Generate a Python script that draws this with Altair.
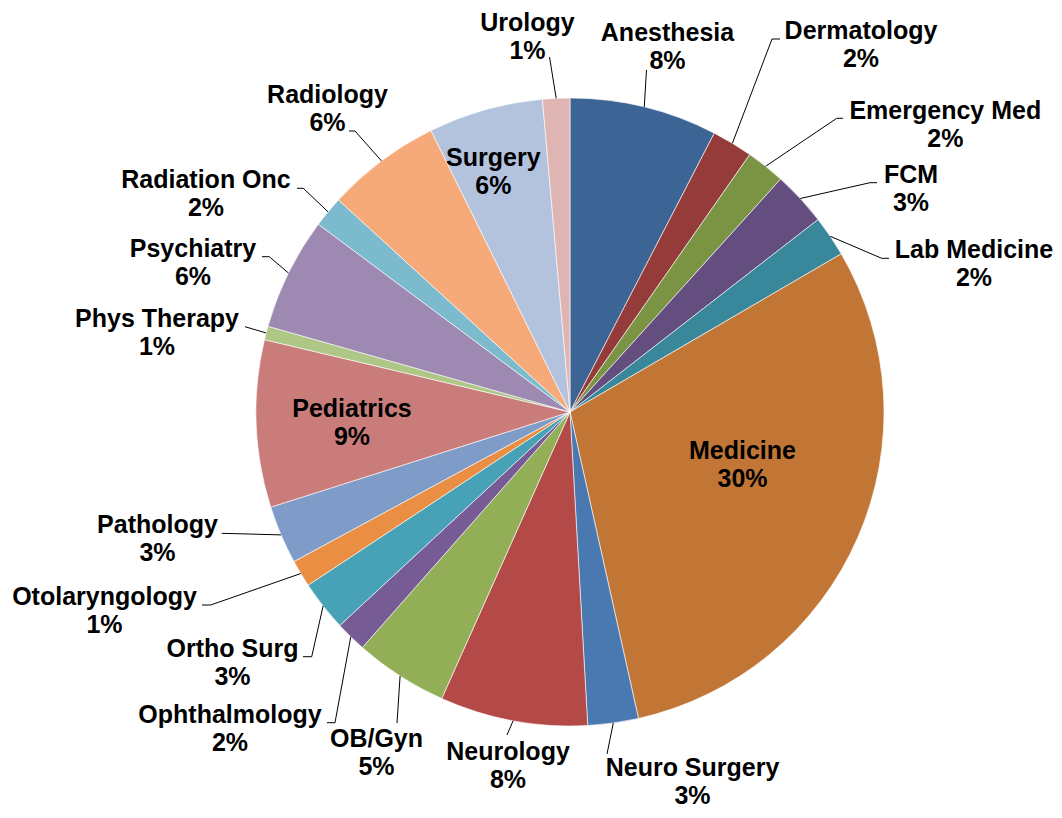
import altair as alt
import pandas as pd

# ---------------- data ----------------
names = ["Anesthesia", "Dermatology", "Emergency Med", "FCM", "Lab Medicine",
         "Medicine", "Neuro Surgery", "Neurology", "OB/Gyn", "Ophthalmology",
         "Ortho Surg", "Otolaryngology", "Pathology", "Pediatrics", "Phys Therapy",
         "Psychiatry", "Radiation Onc", "Radiology", "Surgery", "Urology"]
values = [7.6, 2.1, 2.0, 2.8, 2.1,
          29.9, 2.6, 7.6, 4.8, 1.6,
          2.6, 1.4, 3.0, 8.6, 0.7,
          5.8, 1.6, 5.9, 5.9, 1.4]

# ---------------- styles ----------------
colors = ["#3C6595", "#953B39", "#7A9444", "#644E80", "#38879A",
          "#C27636", "#4A78B0", "#B34A48", "#92AF57", "#775B94",
          "#47A2B8", "#E98E43", "#7F9CC8", "#C97C79", "#AEC686",
          "#9D89B2", "#7CBACD", "#F6AA79", "#B4C3DD", "#DFB5B4"]

# ---------------- layout (pixel offsets from the pie centre) ----------------
label_dx = [97.5, 291, 375.3, 341, 404,
            172.5, 122.5, -62, -193.5, -340,
            -337.5, -465.5, -412.5, -218, -413,
            -377, -364, -242.5, -76.7, -42.5]
label_dy = [-371.3, -372.7, -293, -228.7, -153.7,
            47.3, 364, 348, 334.7, 310.7,
            244.7, 193, 121.3, 5, -85.3,
            -155.3, -223.7, -308.7, -246, -381.3]
elbow_dx = [76.5, 202, 266.7, 300, 311.7,
            None, 37, -63, -173, -235,
            -258.3, -359.3, -348.3, None, -325,
            -300.7, -266.7, -215, None, -20.5]
elbow_dy = [-342, -373, -293.7, -229.3, -153.7,
            None, 342, 323, 311, 310.7,
            244.7, 193, 121.3, None, -85.3,
            -155.3, -223.7, -281, None, -355]
tail_dx = [76.5, 210, 273, 307, 319,
           None, 37, -63, -173, -243,
           -267, -368, -348.3, None, -325,
           -308, -273, -221, None, -20.5]

CX, CY, R = 562, 404, 314
FONT = "Liberation Sans"
FS = 25
LINE = 28

df = pd.DataFrame({
    "idx": list(range(len(names))),
    "name": names,
    "value": values,
    "label_dx": label_dx,
    "label_dy": label_dy,
    "elbow_dx": elbow_dx,
    "elbow_dy": elbow_dy,
    "tail_dx": tail_dx,
})

base = (
    alt.Chart(df)
    .transform_joinaggregate(total="sum(value)")
    .transform_window(cum="sum(value)", sort=[alt.SortField("idx", order="ascending")],
                      frame=[None, 0])
    .transform_calculate(
        mid="(datum.cum - datum.value / 2) / datum.total * 2 * PI",
        pct="round(datum.value / datum.total * 100) + '%'",
        tx=f"{CX} + datum.label_dx",
        ty=f"{CY} + datum.label_dy",
    )
)

pie = alt.Chart(df).mark_arc(outerRadius=R, stroke="white", strokeWidth=0.6).encode(
    theta=alt.Theta("value:Q", stack=True),
    color=alt.Color("name:N", scale=alt.Scale(domain=names, range=colors), legend=None),
    order=alt.Order("idx:Q", sort="ascending"),
    x=alt.value(CX),
    y=alt.value(CY),
)

leaders = base.transform_filter("isValid(datum.elbow_dx)").transform_calculate(
    sx=f"{CX} + {R} * sin(datum.mid)",
    sy=f"{CY} - {R} * cos(datum.mid)",
    ex=f"{CX} + datum.elbow_dx",
    ey=f"{CY} + datum.elbow_dy",
    fx=f"{CX} + datum.tail_dx",
)

lead1 = leaders.mark_rule(color="black", strokeWidth=1).encode(
    x=alt.X("sx:Q", scale=None), y=alt.Y("sy:Q", scale=None),
    x2="ex:Q", y2="ey:Q",
)
lead2 = leaders.mark_rule(color="black", strokeWidth=1).encode(
    x=alt.X("ex:Q", scale=None), y=alt.Y("ey:Q", scale=None),
    x2="fx:Q", y2="ey:Q",
)

name_text = base.mark_text(font=FONT, fontSize=FS, fontWeight="bold", align="center",
                           baseline="alphabetic", color="black").encode(
    x=alt.X("tx:Q", scale=None), y=alt.Y("ty:Q", scale=None), text="name:N")
pct_text = base.mark_text(font=FONT, fontSize=FS, fontWeight="bold", align="center",
                          baseline="alphabetic", color="black", dy=LINE).encode(
    x=alt.X("tx:Q", scale=None), y=alt.Y("ty:Q", scale=None), text="pct:N")

chart = alt.layer(pie, lead1, lead2, name_text, pct_text).properties(
    width=1046, height=802, autosize="none", padding=0
).configure_view(stroke=None)

chart.save("out.html", embed_options={"renderer": "svg", "actions": False})
